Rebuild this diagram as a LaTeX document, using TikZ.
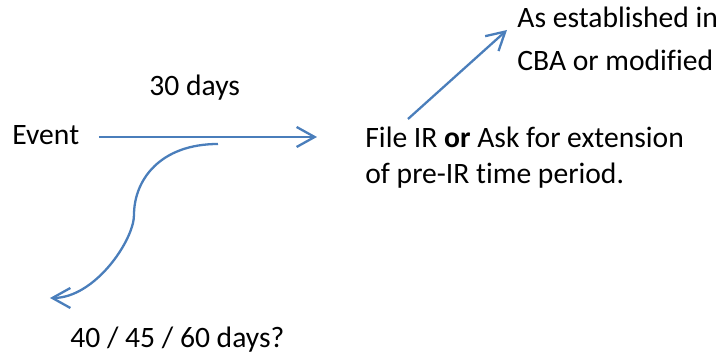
\documentclass[tikz,border=0pt]{standalone}
\usepackage{fontspec}
\setmainfont{Carlito}[Ligatures=NoCommon]
\usetikzlibrary{arrows.meta}
\definecolor{arrowblue}{RGB}{74,126,187}

\begin{document}
\begin{tikzpicture}[x=0.5pt,y=-0.5pt,
    txt/.style={anchor=base west,inner sep=0pt,font=\fontsize{14.8}{18}\selectfont},
    arr/.style={draw=arrowblue,line width=1.15pt,-{Straight Barb[length=9pt,width=10pt]}}]
    \useasboundingbox (0,0) rectangle (720,362);

    \node[txt] (event) at (12,145) {Event};
    \node[txt] (days) at (149,96) {30 days};
    \node[txt,align=left] (file) at (365,184) {File IR \textbf{or} Ask for extension\\of pre-IR time period.};
    \node[txt,align=left,font=\fontsize{14.8}{21.5}\selectfont] (cba) at (517,71) {As established in\\CBA or modified};
    \node[txt] (late) at (70,348) {40 / 45 / 60 days?};

    \coordinate (h0) at (99,137);
    \coordinate (h1) at (317,137);
    \coordinate (d0) at (408,119);
    \coordinate (d1) at (507,30);
    \coordinate (s0) at (218,144);
    \coordinate (s1) at (134,215);
    \coordinate (s2) at (50,298);

    \draw[arr] (h0)--(h1);
    \draw[arr] (d0)--(d1);
    \draw[arr] (s0) .. controls (160,144) and (134,180) .. (s1)
        .. controls (134,240) and (95,298) .. (s2);
  \end{tikzpicture}
\end{document}
